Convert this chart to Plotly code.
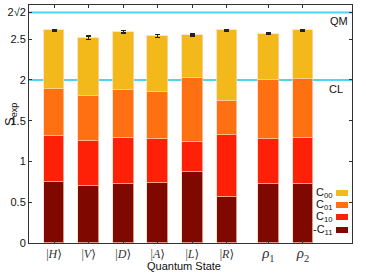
import plotly.graph_objects as go
import math

states = ["|<i>H</i>⟩", "|<i>V</i>⟩", "|<i>D</i>⟩", "|<i>A</i>⟩", "|<i>L</i>⟩", "|<i>R</i>⟩",
          "<span style='font-size:15px'><i>ρ</i><sub>1</sub></span>",
          "<span style='font-size:15px'><i>ρ</i><sub>2</sub></span>"]
x_pos = [1, 2, 3, 4, 5, 6, 7.2, 8.2]

neg_c11 = [0.744, 0.700, 0.723, 0.739, 0.870, 0.559, 0.723, 0.723]
c10 = [0.571, 0.554, 0.567, 0.531, 0.375, 0.771, 0.557, 0.571]
c01 = [0.575, 0.546, 0.590, 0.588, 0.781, 0.414, 0.720, 0.719]
c00 = [0.720, 0.720, 0.710, 0.682, 0.527, 0.866, 0.570, 0.597]
s_err = [0.008, 0.020, 0.013, 0.020, 0.012, 0.010, 0.008, 0.010]

ytick_vals = [0, 0.5, 1, 1.5, 2, 2.5, 2 * math.sqrt(2)]
ytick_text = ["0", "0.5", "1", "1.5", "2", "2.5", "2√2"]

series = [
    ("-C<sub>11</sub>", neg_c11, "#7F0800"),
    ("C<sub>10</sub>", c10, "#FF2008"),
    ("C<sub>01</sub>", c01, "#FF7012"),
    ("C<sub>00</sub>", c00, "#F3B91A"),
]

Wd, H = 366, 273
ml, mr, mt, mb = 29, 14, 5, 30
pw, ph = Wd - ml - mr, H - mt - mb


def px_to_dom(px, py):
    return (px - ml) / pw, 1 - (py - mt) / ph


fig = go.Figure()
for i, (name, vals, col) in enumerate(series):
    kw = {}
    if i == len(series) - 1:
        kw["error_y"] = dict(type="data", array=s_err, color="#222", thickness=1.3, width=2.5)
    fig.add_trace(go.Bar(x=x_pos, y=vals, name=name, width=0.6,
                         marker=dict(color=col, line=dict(color="rgba(255,215,190,0.7)", width=1)),
                         showlegend=False, hoverinfo="skip", **kw))

# reference lines
for yv in [2, 2 * math.sqrt(2)]:
    fig.add_shape(type="line", xref="paper", x0=0, x1=1, yref="y", y0=yv, y1=yv,
                  line=dict(color="#4FD4F2", width=2), layer="below")

lab_font = dict(family="Liberation Sans, Arial", size=11, color="#111")
fig.add_annotation(x=1, xref="paper", y=2 * math.sqrt(2), yref="y", text="QM", showarrow=False,
                   xanchor="right", yanchor="top", xshift=-2, yshift=-1, font=lab_font)
fig.add_annotation(x=1, xref="paper", y=2, yref="y", text="CL", showarrow=False,
                   xanchor="right", yanchor="top", xshift=-7, yshift=-1, font=lab_font)

# custom legend (text left, swatch right)
y_rows = [193, 205, 217, 230]
for (name, vals, col), yp in zip(list(reversed(series)), y_rows):
    ax, ay = px_to_dom(335, yp)
    fig.add_annotation(x=ax, xref="paper", y=ay, yref="paper", text=name, showarrow=False,
                       xanchor="right", yanchor="middle", font=lab_font)
    x0, y0 = px_to_dom(336, yp + 3)
    x1, y1 = px_to_dom(348, yp - 3)
    fig.add_shape(type="rect", xref="paper", yref="paper", x0=x0, x1=x1, y0=y0, y1=y1,
                  line=dict(width=0), fillcolor=col)

# axis titles
tx, ty = px_to_dom(184, 266)
fig.add_annotation(x=tx, y=ty, xref="paper", yref="paper", text="Quantum State", showarrow=False,
                   xanchor="center", yanchor="middle", font=lab_font)
tx, ty = px_to_dom(10, 115)
fig.add_annotation(x=tx, y=ty, xref="paper", yref="paper", text="S<sub>exp</sub>", showarrow=False,
                   xanchor="center", yanchor="middle", textangle=-90,
                   font=dict(family="Liberation Sans, Arial", size=13, color="#111"))

fig.update_layout(
    width=Wd, height=H, barmode="stack", bargap=0,
    margin=dict(l=ml, r=mr, t=mt, b=mb, autoexpand=False),
    plot_bgcolor="white", paper_bgcolor="white",
    font=dict(family="Liberation Sans, Arial", size=11, color="#111"),
)
fig.update_xaxes(range=[0.275, 9.62], tickvals=x_pos, ticktext=states, automargin=False,
                 tickfont=dict(family="Liberation Serif, DejaVu Serif", size=12, color="#333"),
                 showline=True, linecolor="#333", linewidth=1, mirror="ticks",
                 ticks="inside", ticklen=3, tickcolor="#333", showgrid=False, zeroline=False)
fig.update_yaxes(range=[0, 2.92], tickvals=ytick_vals, ticktext=ytick_text, automargin=False,
                 showline=True, linecolor="#333", linewidth=1, mirror="ticks",
                 ticks="inside", ticklen=3, tickcolor="#333", showgrid=False, zeroline=False)

fig.write_html("out.html", config={"displayModeBar": False},
               post_script="document.body.style.margin='0';document.body.style.overflow='hidden';")
